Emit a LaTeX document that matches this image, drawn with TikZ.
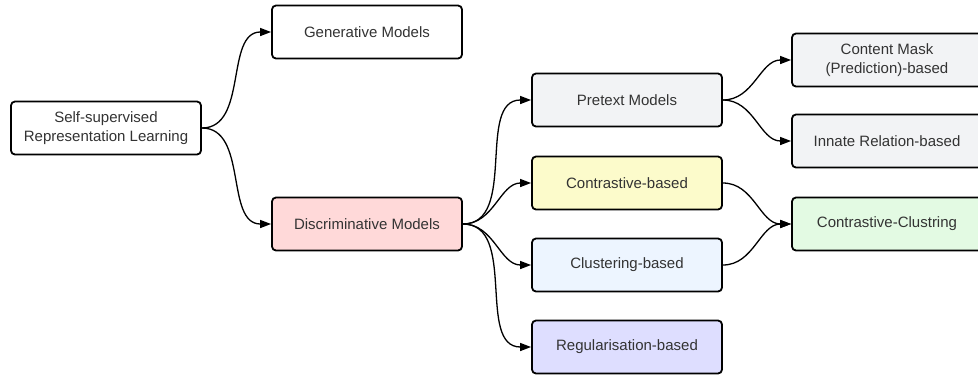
\documentclass[tikz,border=0pt]{standalone}
\usepackage{fontspec}
\setmainfont{Liberation Sans}
\usepackage{xcolor}
\usetikzlibrary{arrows.meta, positioning}
\definecolor{txtgray}{HTML}{333333}
\definecolor{pinkfill}{HTML}{FFD9D9}
\definecolor{grayfill}{HTML}{F2F3F5}
\definecolor{yellowfill}{HTML}{FCFBCB}
\definecolor{bluefill}{HTML}{EDF5FF}
\definecolor{lavfill}{HTML}{DEDEFF}
\definecolor{greenfill}{HTML}{E3FAE3}
\tikzset{
  box/.style = {draw=black, line width=1.8pt, rounded corners=4pt,
    minimum width=190pt, minimum height=53pt, align=center,
    text=txtgray, font=\fontsize{15}{18.5}\selectfont, fill=white},
  link/.style = {line width=1.3pt, -{Triangle[length=11pt,width=8pt]}}
}

\begin{document}
\begin{tikzpicture}[x=1pt, y=-1pt]
\useasboundingbox (0,0) rectangle (978,376);
\node [box] (ssrl) at (106,128) {Self-supervised\\Representation Learning};
\node [box] (gen) at (367,32) {Generative Models};
\node [box, fill=pinkfill] (disc) at (367,224) {Discriminative Models};
\node [box, fill=grayfill] (pre) at (627,100) {Pretext Models};
\node [box, fill=yellowfill] (con) at (627,183) {Contrastive-based};
\node [box, fill=bluefill] (clu) at (627,265) {Clustering-based};
\node [box, fill=lavfill] (reg) at (627,347) {Regularisation-based};
\node [box, fill=grayfill] (mask) at (887,60) {Content Mask\\(Prediction)-based};
\node [box, fill=grayfill] (innate) at (887,141) {Innate Relation-based};
\node [box, fill=greenfill] (concl) at (887,224) {Contrastive-Clustring};

% first level
\draw [link] (ssrl.east) to[out=0, in=180] (gen.west);
\draw [link] (ssrl.east) to[out=0, in=180] (disc.west);
% discriminative branches
\foreach \n in {pre, con, clu, reg}
  \draw [link] (disc.east) to[out=0, in=180] (\n.west);
% pretext branches
\draw [link] (pre.east) to[out=0, in=180] (mask.west);
\draw [link] (pre.east) to[out=0, in=180] (innate.west);
% merged
\draw [link] (con.east) to[out=0, in=180] (concl.west);
\draw [link] (clu.east) to[out=0, in=180] (concl.west);
\end{tikzpicture}
\end{document}
